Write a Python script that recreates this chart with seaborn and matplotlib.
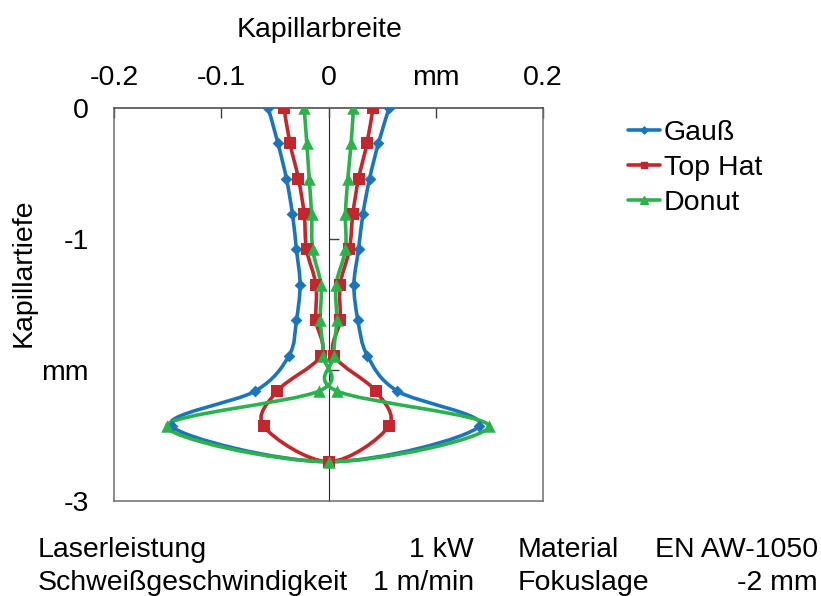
import numpy as np
import pandas as pd
import matplotlib
matplotlib.use("Agg")
import matplotlib.pyplot as plt
import seaborn as sns
from matplotlib.path import Path
from matplotlib.patches import PathPatch
from matplotlib.lines import Line2D

# ---------------- data ----------------
depth = [0.0, -0.27, -0.54, -0.81, -1.08, -1.35, -1.62, -1.89, -2.16, -2.43, -2.70]

gauss_left = [-0.0562, -0.0471, -0.0392, -0.0336, -0.0299, -0.0265, -0.0299, -0.0368, -0.0681, -0.1463, 0.0]
gauss_right = [0.0565, 0.0465, 0.0383, 0.0321, 0.0280, 0.0237, 0.0274, 0.0362, 0.0640, 0.1405, 0.0]

tophat_left = [-0.0415, -0.0359, -0.0280, -0.0227, -0.0205, -0.0117, -0.0117, -0.0070, -0.0477, -0.0603, 0.0]
tophat_right = [0.0415, 0.0359, 0.0280, 0.0227, 0.0195, 0.0108, 0.0108, 0.0054, 0.0439, 0.0561, 0.0]

donut_left = [-0.0227, -0.0202, -0.0180, -0.0158, -0.0148, -0.0070, -0.0077, -0.0049, -0.0086, -0.1510, 0.0]
donut_right = [0.0233, 0.0211, 0.0180, 0.0158, 0.0158, 0.0070, 0.0077, 0.0049, 0.0077, 0.1495, 0.0]

series_names = ["Gauß", "Top Hat", "Donut"]
series_colors = ["#1b75bc", "#c1272d", "#2bb24c"]
series_markers = ["D", "s", "^"]
series_msize = [6, 8, 9]

x_ticks = [-0.2, -0.1, 0.0, 0.1, 0.2]
x_ticklabels = ["-0.2", "-0.1", "0", "mm", "0.2"]
y_ticks = [0, -1, -2, -3]
y_ticklabels = ["0", "-1", "mm", "-3"]

info_left = [("Laserleistung", "1 kW"), ("Schweißgeschwindigkeit", "1 m/min")]
info_right = [("Material", "EN AW-1050"), ("Fokuslage", "-2 mm")]

# ---------------- helpers ----------------
def profile(left, right):
    """Left side top->bottom, then right side bottom->top (shared bottom point)."""
    xs = list(left) + list(reversed(right[:-1]))
    ys = list(depth) + list(reversed(depth[:-1]))
    return np.array(xs), np.array(ys)


def smooth_path(xs, ys):
    pts = np.column_stack([xs, ys])
    n = len(pts)
    verts = [pts[0]]
    codes = [Path.MOVETO]
    for i in range(n - 1):
        p0 = pts[i - 1] if i > 0 else pts[i]
        p1 = pts[i]
        p2 = pts[i + 1]
        p3 = pts[i + 2] if i + 2 < n else pts[i + 1]
        c1 = p1 + (p2 - p0) / 6.0
        c2 = p2 - (p3 - p1) / 6.0
        verts += [c1, c2, p2]
        codes += [Path.CURVE4] * 3
    return Path(verts, codes)


# ---------------- figure ----------------
sns.set_style("white")
plt.rcParams["font.family"] = ["Liberation Sans", "DejaVu Sans"]
plt.rcParams["text.color"] = "black"
plt.rcParams["xtick.labelcolor"] = "black"
plt.rcParams["ytick.labelcolor"] = "black"
FS = 20.5

fig = plt.figure(figsize=(8.21, 5.96), dpi=100)
ax = fig.add_axes([114 / 821, 1 - 501 / 596, (543 - 114) / 821, (501 - 108) / 596])

frames = []
for name, l, r in zip(series_names,
                      [gauss_left, tophat_left, donut_left],
                      [gauss_right, tophat_right, donut_right]):
    xs, ys = profile(l, r)
    frames.append(pd.DataFrame({"x": xs, "y": ys, "series": name}))
df = pd.concat(frames, ignore_index=True)

for name, color, mk, ms in zip(series_names, series_colors, series_markers, series_msize):
    sub = df[df["series"] == name]
    patch = PathPatch(smooth_path(sub["x"].values, sub["y"].values), facecolor="none",
                      edgecolor=color, lw=2.6, zorder=3, capstyle="round", joinstyle="round")
    ax.add_patch(patch)
    sns.scatterplot(data=sub, x="x", y="y", marker=mk, s=ms ** 2, color=color,
                    edgecolor=color, linewidth=0, ax=ax, zorder=4, legend=False)

ax.set_xlim(-0.2, 0.2)
ax.set_ylim(-3, 0)
ax.set_xlabel("")
ax.set_ylabel("")

# frame
for sp in ax.spines.values():
    sp.set_color("#6e6e6e")
    sp.set_linewidth(1.1)
ax.spines["top"].set_color("#404040")

# top x axis
ax.xaxis.tick_top()
ax.set_xticks(x_ticks)
ax.set_xticklabels(x_ticklabels, fontsize=FS, color="black")
ax.tick_params(axis="x", direction="in", length=7, width=1.0, color="#404040", pad=12)

# y labels at the frame, no ticks
ax.set_yticks(y_ticks)
ax.set_yticklabels(y_ticklabels, fontsize=FS, color="black")
ax.tick_params(axis="y", length=0, pad=18)

# centre vertical axis with outward ticks
sec = ax.secondary_yaxis(0.5)
sec.set_yticks([-1, -2])
sec.set_yticklabels([])
sec.tick_params(axis="y", direction="out", length=7, width=1.0, color="#404040")
sec.spines["left"].set_color("#404040")
sec.spines["left"].set_linewidth(1.1)

# titles
fig.text(320 / 821, 1 - 30 / 596, "Kapillarbreite", fontsize=FS, ha="center", va="center",
         color="black")
fig.text(24 / 821, 1 - 273 / 596, "Kapillartiefe", fontsize=FS, ha="center", va="center",
         rotation=90, color="black")

# legend
handles = [Line2D([0], [0], color=c, lw=2.6, marker=m, markersize=ms * 0.6)
           for c, m, ms in zip(series_colors, series_markers, series_msize)]
leg = fig.legend(handles, series_names, loc="upper left",
                 bbox_to_anchor=(628 / 821, 1 - 120 / 596),
                 frameon=False, fontsize=FS, handlelength=1.13, handletextpad=0.12,
                 labelspacing=0.31, borderpad=0, borderaxespad=0)
for t in leg.get_texts():
    t.set_color("black")

# bottom info text
row_y = [550, 583]
for (lab, val), y in zip(info_left, row_y):
    fig.text(38 / 821, 1 - y / 596, lab, fontsize=FS, ha="left", va="center", color="black")
    fig.text(474 / 821, 1 - y / 596, val, fontsize=FS, ha="right", va="center", color="black")
for (lab, val), y in zip(info_right, row_y):
    fig.text(518 / 821, 1 - y / 596, lab, fontsize=FS, ha="left", va="center", color="black")
    fig.text(818 / 821, 1 - y / 596, val, fontsize=FS, ha="right", va="center", color="black")

fig.savefig("out.png", dpi=100)
